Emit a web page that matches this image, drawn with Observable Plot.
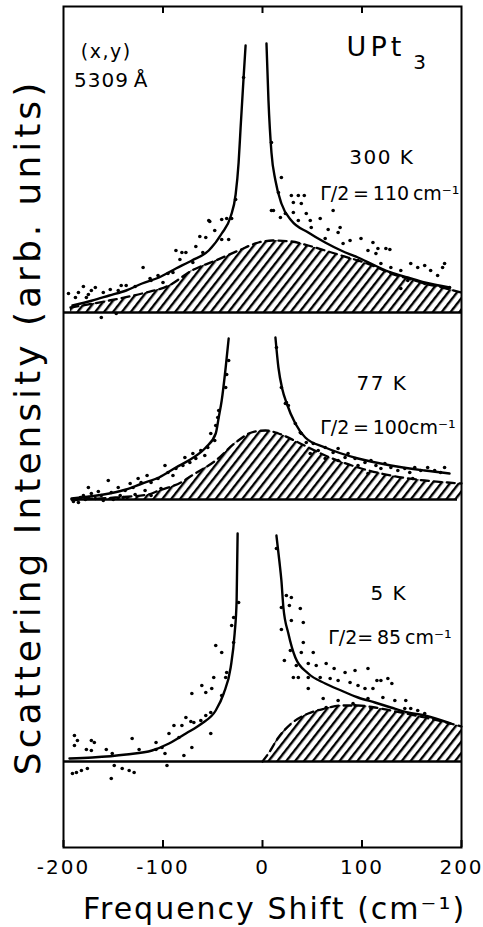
<!DOCTYPE html>
<html><head><meta charset="utf-8">
<script src="https://cdn.jsdelivr.net/npm/d3@7"></script>
<script src="https://cdn.jsdelivr.net/npm/@observablehq/plot@0.6"></script>
<style>
body{margin:0;background:#fff}
svg{display:block}
</style>
</head><body><div id="chart"></div>
<script>
// x ticks (cm^-1)
const xTicks = [-200, -100, 0, 100, 200];
const panels = ["300 K", "77 K", "5 K"];
// vertical offset of each panel's zero line (arb. units)
const offsets = [535, 348, 86];

// ---- 300 K ----
const fit300Left = [[-191,7],[-171,12],[-154,17],[-137,22],[-121,29],[-104,35],[-87,44],[-71,52],[-54,62],[-41,79],[-32,96],[-27,118],[-24,150],[-22,185],[-19,235],[-17,267]];
const fit300Right = [[4,269],[6,212],[9,160],[13,132],[19,109],[29,92],[46,80],[63,70],[79,62],[96,55],[113,47],[129,40],[146,35],[163,30],[188,25]];
const bg300 = [[-193,5],[-154,12],[-121,19],[-94,27],[-71,42],[-47,52],[-24,62],[-4,70],[10,72],[29,71],[46,67],[63,62],[79,57],[96,52],[113,46],[129,39],[146,34],[163,29],[180,25],[200,20]];
const pts300 = [[-195,19],[-188,15],[-185,20],[-180,26],[-177,15],[-175,18],[-172,22],[-168,25],[-162,-5],[-160,20],[-153,23],[-147,-1],[-145,22],[-142,27],[-137,27],[-128,26],[-120,45],[-113,34],[-112,32],[-105,37],[-100,30],[-95,39],[-90,40],[-87,62],[-83,53],[-81,60],[-77,60],[-70,50],[-67,66],[-63,76],[-60,60],[-57,75],[-54,92],[-53,91],[-48,82],[-41,93],[-41,73],[-36,94],[-34,73],[-31,94],[-27,113],[-19,235],
[9,102],[9,170],[11,102],[16,120],[18,95],[19,135],[23,99],[29,117],[31,110],[31,100],[36,117],[36,92],[39,109],[42,117],[44,99],[48,92],[49,85],[58,94],[63,74],[66,83],[71,102],[76,80],[78,85],[81,69],[88,72],[96,52],[99,74],[106,62],[111,70],[114,59],[116,64],[119,49],[124,64],[128,63],[129,45],[139,42],[139,24],[146,32],[149,49],[156,45],[163,47],[163,29],[169,42],[176,37],[181,45],[183,49],[188,25]];

// ---- 77 K ----
const fit77Left = [[-192,1],[-154,6],[-137,10],[-121,16],[-104,22],[-87,32],[-71,41],[-57,52],[-47,66],[-44,82],[-41,99],[-37,132],[-34,161]];
const fit77Right = [[13,162],[16,132],[20,110],[24,97],[33,76],[43,62],[63,52],[96,41],[129,34],[163,29],[188,26]];
const bg77 = [[-192,0],[-148,2],[-115,5],[-104,9],[-82,17],[-71,24],[-47,39],[-27,57],[-11,67],[3,69],[16,66],[36,57],[63,44],[96,32],[129,24],[163,19],[186,17],[200,16]];
const pts77 = [[-190,-2],[-187,0],[-185,-3],[-183,2],[-180,4],[-178,0],[-175,2],[-175,12],[-172,6],[-168,1],[-165,8],[-162,4],[-160,-1],[-155,19],[-152,7],[-150,0],[-145,12],[-143,4],[-140,2],[-138,9],[-133,16],[-130,12],[-128,5],[-125,21],[-122,17],[-118,9],[-116,24],[-112,17],[-112,4],[-105,21],[-102,11],[-98,34],[-95,27],[-90,24],[-87,31],[-80,34],[-78,42],[-73,37],[-70,46],[-67,41],[-62,49],[-58,44],[-55,52],[-52,66],[-48,59],[-47,74],[-45,82],[-44,89],[-37,112],[-36,125],[-34,139],
[14,152],[19,112],[23,96],[24,97],[26,94],[33,76],[38,67],[39,66],[44,57],[48,46],[51,56],[56,49],[63,52],[63,41],[71,47],[76,51],[76,39],[83,42],[86,46],[93,41],[96,34],[103,37],[106,26],[109,39],[114,34],[119,31],[123,36],[129,32],[136,29],[143,31],[148,27],[151,21],[153,32],[159,29],[166,32],[173,29],[179,27],[183,32]];

// ---- 5 K ----
const fit5Left = [[-194,3],[-171,4],[-137,7],[-111,11],[-94,18],[-77,28],[-61,38],[-47,51],[-39,68],[-32,94],[-28,128],[-26,161],[-25,228]];
const fit5Right = [[14,226],[17,200],[19,181],[21,154],[26,128],[33,104],[46,88],[63,78],[79,71],[96,64],[113,59],[129,54],[146,49],[163,46],[189,38]];
const bg5 = [[0,0],[6,8],[16,24],[29,38],[46,48],[63,53],[79,56],[96,56],[113,54],[129,51],[163,44],[189,38],[200,35]];
const pts5 = [[-191,-12],[-189,26],[-189,16],[-187,-11],[-186,21],[-182,-9],[-177,12],[-176,-7],[-172,21],[-172,11],[-169,19],[-157,12],[-152,-17],[-151,8],[-149,-4],[-141,-7],[-134,-9],[-131,23],[-129,-11],[-124,12],[-107,19],[-107,12],[-101,14],[-98,8],[-96,-4],[-94,28],[-89,36],[-84,24],[-81,36],[-79,6],[-77,44],[-72,40],[-71,14],[-71,68],[-69,39],[-62,41],[-61,76],[-57,46],[-57,69],[-52,49],[-52,28],[-51,73],[-49,84],[-47,116],[-41,109],[-41,66],[-37,84],[-36,89],[-31,136],[-29,144],[-29,119],[-24,159],
[14,213],[19,154],[24,166],[29,164],[27,156],[38,153],[29,141],[41,139],[19,132],[41,119],[28,111],[39,109],[51,109],[22,101],[34,96],[46,98],[54,96],[64,98],[72,93],[83,89],[93,91],[106,93],[31,84],[36,84],[46,84],[58,84],[68,83],[76,81],[88,79],[96,76],[103,73],[111,73],[119,81],[126,83],[130,78],[115,81],[46,73],[61,63],[76,61],[91,58],[106,63],[121,64],[133,61],[144,61],[109,53],[143,53],[149,53],[156,51],[163,48],[64,54],[93,56]];

// build tables
const fits = [[fit300Left, fit300Right], [fit77Left, fit77Right], [fit5Left, fit5Right]];
const bgs = [bg300, bg77, bg5];
const pts = [pts300, pts77, pts5];
const fitRows = [], bgRows = [], ptRows = [];
panels.forEach((p, i) => {
  const o = offsets[i];
  fits[i].forEach((br, j) => br.forEach(([x, v]) => fitRows.push({panel: p, branch: p + j, x, y: o + v})));
  bgs[i].forEach(([x, v]) => bgRows.push({panel: p, x, y: o + v, base: o}));
  pts[i].forEach(([x, v]) => ptRows.push({panel: p, x, y: o + v}));
});

const font = "DejaVu Sans";
const ts = "\u2009"; // thin space
const yTitle = "Scattering Intensity (arb. units)";
const xTitle = "Frequency Shift (cm⁻¹)";
const svg = Plot.plot({
  width: 483, height: 927,
  marginLeft: 63, marginRight: 22, marginTop: 6, marginBottom: 80,
  x: {domain: [-200, 200], ticks: xTicks, tickSize: 0, tickPadding: 12, label: null, tickFormat: d => String(d)},
  y: {domain: [0, 841], axis: null},
  style: {fontFamily: font, fontSize: "20px", color: "black", background: "white", overflow: "visible"},
  marks: [
    Plot.area(bgRows, {x1: "x", y1: "base", y2: "y", z: "panel", fill: "url(#hatch)", curve: "monotone-x"}),
    Plot.line(bgRows, {x: "x", y: "y", z: "panel", stroke: "black", strokeWidth: 2.3, strokeDasharray: "8,5", curve: "monotone-x"}),
    Plot.ruleY([offsets[0], offsets[2]], {y: d => d, stroke: "black", strokeWidth: 2.5}),
    Plot.ruleY([offsets[1]], {y: d => d, x1: -192, x2: 196, stroke: "black", strokeWidth: 2.5}),
    Plot.line(fitRows, {x: "x", y: "y", z: "branch", stroke: "black", strokeWidth: 2.4, curve: "monotone-x"}),
    Plot.dot(ptRows, {x: "x", y: "y", r: 1.8, fill: "black", stroke: "none"}),
    Plot.frame({stroke: "black", strokeWidth: 2}),
    Plot.tickX(xTicks, {x: d => d, insetTop: 834, strokeWidth: 2}),
    Plot.tickX([-100, 0, 100], {x: d => d, insetBottom: 834, strokeWidth: 2}),
    Plot.text(["(x,y)"], {x: -157, y: 796, fontSize: 19}),
    Plot.text(["5309" + ts + "Å"], {x: -152, y: 767, fontSize: 20}),
    Plot.text(["UPt"], {x: 114, y: 800, fontSize: 27}),
    Plot.text(["3"], {x: 159, y: 785, fontSize: 20}),
    Plot.text(["300 K"], {x: 120, y: 690, fontSize: 20}),
    Plot.text(["Γ/2" + ts + "=" + ts + "110" + ts + "cm⁻¹"], {x: 128, y: 654, fontSize: 19}),
    Plot.text(["77 K"], {x: 120, y: 464, fontSize: 20}),
    Plot.text(["Γ/2" + ts + "=" + ts + "100cm⁻¹"], {x: 126, y: 420, fontSize: 19}),
    Plot.text(["5 K"], {x: 127, y: 254, fontSize: 20}),
    Plot.text(["Γ/2=" + ts + "85" + ts + "cm⁻¹"], {x: 128, y: 210, fontSize: 19}),
    Plot.text([yTitle], {frameAnchor: "left", textAnchor: "middle", rotate: -90, dx: -35, fontSize: 36}),
    Plot.text([xTitle], {frameAnchor: "bottom", textAnchor: "middle", lineAnchor: "middle", dy: 62, dx: 12, fontSize: 30})
  ]
});
d3.select(svg).insert("defs", ":first-child").html(
  '<pattern id="hatch" patternUnits="userSpaceOnUse" width="7" height="10" patternTransform="rotate(38)"><rect x="0" y="-1" width="2.4" height="12" fill="black"/></pattern>'
);
// letter spacing to mimic the wide lettering of the original
const spacing = {[yTitle]: 4, [xTitle]: 2, "UPt": 4, "300 K": 1.5, "77 K": 1.5, "5 K": 1.5, "(x,y)": 1.5, ["5309" + ts + "Å"]: 1};
d3.select(svg).selectAll("text").each(function() {
  const t = this.textContent;
  if (t in spacing) this.setAttribute("letter-spacing", spacing[t] + "px");
  else if (/^-?\d+$/.test(t)) this.setAttribute("letter-spacing", "2px");
});
document.getElementById("chart").appendChild(svg);
</script>
</body></html>
